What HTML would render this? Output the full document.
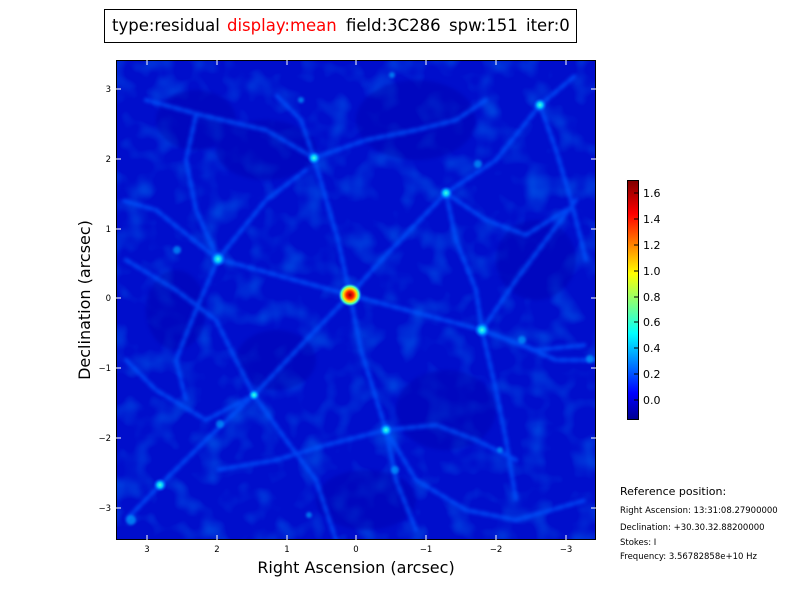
<!DOCTYPE html>
<html><head><style>
body{margin:0;background:#fff;width:800px;height:600px;overflow:hidden;font-family:"DejaVu Sans","Liberation Sans",sans-serif;}
</style></head><body>
<svg width="800" height="600" xmlns="http://www.w3.org/2000/svg" font-family="DejaVu Sans, Liberation Sans, sans-serif">
<defs>
<filter id="b" x="-10%" y="-10%" width="120%" height="120%"><feGaussianBlur stdDeviation="1.8"/></filter>
<filter id="b2"><feGaussianBlur stdDeviation="1.2"/></filter>
<filter id="n" x="0" y="0" width="100%" height="100%">
<feTurbulence type="fractalNoise" baseFrequency="0.04" numOctaves="2" seed="3"/>
<feColorMatrix type="matrix" values="0 0 0 0 0  0 0 0 0 0.3  0 0 0 0 1  1.6 0 0 0 -0.75"/>
</filter>
<clipPath id="c"><rect x="116" y="60" width="480" height="480"/></clipPath>
<radialGradient id="pk"><stop offset="0" stop-color="#900000"/><stop offset="0.3" stop-color="#ff2000"/><stop offset="0.55" stop-color="#ffe000"/><stop offset="0.75" stop-color="#40ffc0"/><stop offset="1" stop-color="#0040ff" stop-opacity="0"/></radialGradient>
<radialGradient id="sp"><stop offset="0" stop-color="#40ffe0"/><stop offset="0.4" stop-color="#00c0ff"/><stop offset="1" stop-color="#0040ff" stop-opacity="0"/></radialGradient>
<linearGradient id="cb" x1="0" y1="1" x2="0" y2="0"><stop offset="0" stop-color="#00008f"/><stop offset="0.11" stop-color="#0000ff"/><stop offset="0.36" stop-color="#00ffff"/><stop offset="0.61" stop-color="#ffff00"/><stop offset="0.86" stop-color="#ff0000"/><stop offset="1" stop-color="#800000"/></linearGradient>
</defs>
<rect x="104.5" y="9.5" width="472" height="33" fill="#fff" stroke="#000"/>
<text y="31" font-size="16.5"><tspan x="112">type:residual</tspan><tspan x="227" fill="#f00">display:mean</tspan><tspan x="346">field:3C286</tspan><tspan x="449">spw:151</tspan><tspan x="526">iter:0</tspan></text>
<g clip-path="url(#c)">
<rect x="116" y="60" width="480" height="480" fill="#000ecc"/>
<rect x="116" y="60" width="480" height="480" filter="url(#n)" opacity="0.6"/>
<g transform="translate(116,60)">
<g fill="#0006b0" opacity="0.45" filter="url(#b)">
<ellipse cx="150" cy="90" rx="50" ry="30"/><ellipse cx="300" cy="60" rx="60" ry="40"/><ellipse cx="330" cy="350" rx="50" ry="40"/><ellipse cx="160" cy="300" rx="40" ry="30"/><ellipse cx="80" cy="60" rx="40" ry="30"/><ellipse cx="420" cy="200" rx="40" ry="40"/><ellipse cx="60" cy="250" rx="30" ry="40"/><ellipse cx="250" cy="440" rx="50" ry="30"/>
</g>
<g fill="none" stroke="#0058ff" stroke-width="4" opacity="0.75" filter="url(#b)" stroke-linecap="round" stroke-dasharray="7 4">
<polyline points="234,235 102,199 65,170 40,150 5,140"/>
<polyline points="234,235 366,270 405,285 440,300 480,300"/>
<polyline points="234,235 222,180 198,98 185,60 160,35"/>
<polyline points="234,235 245,290 270,370 280,420 300,470"/>
<polyline points="234,235 270,195 330,133 380,100 424,45 460,15"/>
<polyline points="234,235 195,275 138,335 90,380 44,425 10,460"/>
<polyline points="198,98 150,70 85,55 30,40"/>
<polyline points="198,98 250,80 300,70 340,60 370,40"/>
<polyline points="330,133 340,180 360,230 366,270"/>
<polyline points="330,133 370,160 410,175 450,150"/>
<polyline points="102,199 80,150 70,100 80,55"/>
<polyline points="102,199 80,250 60,300 70,340"/>
<polyline points="366,270 380,330 390,380 400,440"/>
<polyline points="366,270 400,220 430,180 460,140"/>
<polyline points="270,370 210,385 160,400 100,410"/>
<polyline points="270,370 320,365 360,380 400,400"/>
<polyline points="138,335 120,300 100,260 60,230 10,200"/>
<polyline points="138,335 170,380 200,420 220,480"/>
<polyline points="270,370 300,420 350,450 400,460 470,440"/>
<polyline points="102,199 150,140 190,110"/>
<polyline points="10,300 40,330 90,360 138,335"/>
<polyline points="424,45 440,90 455,140 470,200"/>
<polyline points="366,270 420,290 470,285"/>
</g>
<g fill="#00a0ff" opacity="0.7" filter="url(#b2)">
<circle cx="61" cy="190" r="4"/><circle cx="362" cy="104" r="4"/><circle cx="406" cy="280" r="4"/><circle cx="104" cy="364" r="4"/><circle cx="279" cy="410" r="4"/><circle cx="185" cy="40" r="3"/><circle cx="474" cy="299" r="4"/><circle cx="15" cy="460" r="5"/><circle cx="384" cy="390" r="3"/><circle cx="193" cy="455" r="3"/><circle cx="276" cy="15" r="3"/>
</g>
<circle cx="234" cy="235" r="12" fill="url(#pk)"/>
<g fill="url(#sp)">
<circle cx="102" cy="199" r="8"/><circle cx="366" cy="270" r="8"/><circle cx="198" cy="98" r="7"/><circle cx="330" cy="133" r="7"/><circle cx="270" cy="370" r="7"/><circle cx="138" cy="335" r="6"/><circle cx="424" cy="45" r="7"/><circle cx="44" cy="425" r="7"/>
</g>
</g>
</g>
<rect x="116.5" y="60.5" width="479" height="479" fill="none" stroke="#000"/>
<g stroke="#fff" stroke-width="1">
<path d="M147 540v-5M217 540v-5M287 540v-5M356 540v-5M426 540v-5M496 540v-5M566 540v-5M147 60v5M217 60v5M287 60v5M356 60v5M426 60v5M496 60v5M566 60v5"/>
<path d="M116 89h5M116 159h5M116 229h5M116 298h5M116 368h5M116 438h5M116 508h5M596 89h-5M596 159h-5M596 229h-5M596 298h-5M596 368h-5M596 438h-5M596 508h-5"/>
</g>
<g font-size="8.5" text-anchor="middle">
<text x="147" y="552">3</text><text x="217" y="552">2</text><text x="287" y="552">1</text><text x="356" y="552">0</text><text x="426" y="552">−1</text><text x="496" y="552">−2</text><text x="566" y="552">−3</text>
</g>
<g font-size="8.5" text-anchor="end">
<text x="111" y="92">3</text><text x="111" y="162">2</text><text x="111" y="232">1</text><text x="111" y="301">0</text><text x="111" y="371">−1</text><text x="111" y="441">−2</text><text x="111" y="511">−3</text>
</g>
<text x="356" y="573" font-size="16" text-anchor="middle">Right Ascension (arcsec)</text>
<text transform="translate(90,300) rotate(-90)" font-size="16" text-anchor="middle">Declination (arcsec)</text>
<rect x="627.5" y="180.5" width="11" height="239" fill="url(#cb)" stroke="#000"/>
<g stroke="#000"><path d="M634 193h4M634 219h4M634 245h4M634 271h4M634 297h4M634 322h4M634 348h4M634 374h4M634 400h4"/></g>
<g font-size="11">
<text x="643" y="197">1.6</text><text x="643" y="223">1.4</text><text x="643" y="249">1.2</text><text x="643" y="275">1.0</text><text x="643" y="301">0.8</text><text x="643" y="326">0.6</text><text x="643" y="352">0.4</text><text x="643" y="378">0.2</text><text x="643" y="404">0.0</text>
</g>
<text x="620" y="495" font-size="11">Reference position:</text>
<g font-size="8.5">
<text x="620" y="513">Right Ascension: 13:31:08.27900000</text>
<text x="620" y="530">Declination: +30.30.32.88200000</text>
<text x="620" y="545">Stokes: I</text>
<text x="620" y="559">Frequency: 3.56782858e+10 Hz</text>
</g>
</svg>
</body></html>
